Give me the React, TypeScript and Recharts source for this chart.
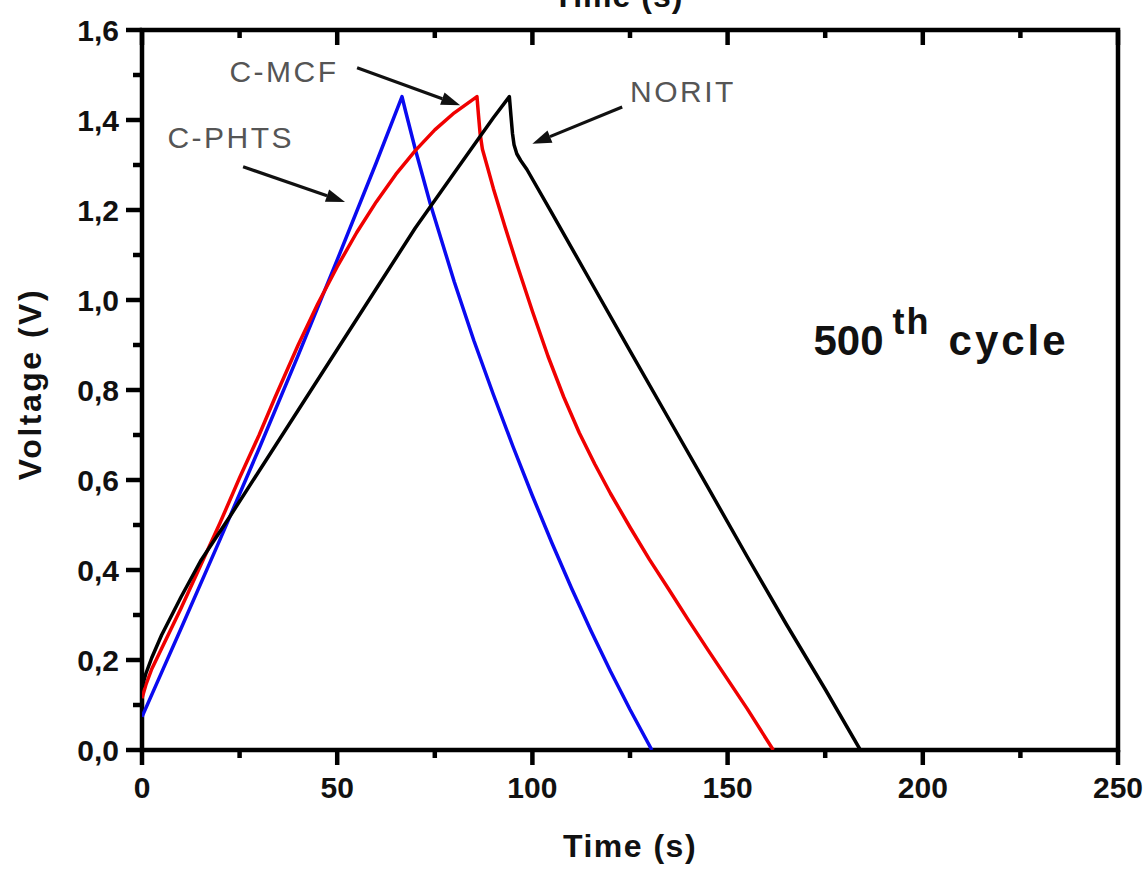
import React from 'react';
import { LineChart, Line, XAxis, YAxis, ReferenceLine, ReferenceDot, ReferenceArea } from 'recharts';

// Galvanostatic charge/discharge, 500th cycle — time (s) vs voltage (V)
const phtsTime = [0, 5, 10, 20, 30, 40, 50, 60, 66.6, 67.5, 70, 73.8, 80, 85, 90, 95, 100, 105, 110, 115, 120, 125, 130.6];
const phtsVolt = [0.074, 0.172, 0.27, 0.468, 0.67, 0.877, 1.089, 1.305, 1.452, 1.42, 1.335, 1.215, 1.04, 0.91, 0.79, 0.675, 0.565, 0.46, 0.36, 0.265, 0.175, 0.09, 0.0];

const mcfTime = [0, 1, 2.5, 5, 10, 15, 20, 25, 30, 34.1, 40, 45, 50, 55, 60, 65, 70, 75, 80, 85.8, 86.2, 86.6, 87.2, 88.5, 90, 93, 96, 100, 104, 108, 112, 116, 120, 125, 130, 135, 140, 145, 150, 155, 161.7];
const mcfVolt = [0.115, 0.145, 0.18, 0.225, 0.315, 0.41, 0.505, 0.605, 0.7, 0.784, 0.9, 0.991, 1.074, 1.15, 1.218, 1.279, 1.332, 1.378, 1.416, 1.452, 1.41, 1.37, 1.335, 1.295, 1.248, 1.162, 1.08, 0.975, 0.875, 0.785, 0.705, 0.635, 0.57, 0.495, 0.423, 0.356, 0.288, 0.222, 0.157, 0.092, 0.0];

const noritTime = [0, 1, 2.5, 5, 10, 15, 22.6, 30, 40, 50, 60, 70, 80, 90, 94.1, 94.5, 94.9, 95.3, 96, 97, 98.6, 105, 115, 125, 135, 145, 155, 165, 175, 184];
const noritVolt = [0.14, 0.17, 0.205, 0.255, 0.34, 0.42, 0.52, 0.62, 0.755, 0.89, 1.025, 1.16, 1.283, 1.405, 1.452, 1.41, 1.37, 1.345, 1.325, 1.31, 1.29, 1.193, 1.04, 0.887, 0.735, 0.583, 0.43, 0.28, 0.135, 0.0];

const xTickValues = [0, 25, 50, 75, 100, 125, 150, 175, 200, 225, 250];
const xMajorTicks = [0, 50, 100, 150, 200, 250];
const yTickValues = [0, 0.1, 0.2, 0.3, 0.4, 0.5, 0.6, 0.7, 0.8, 0.9, 1.0, 1.1, 1.2, 1.3, 1.4, 1.5, 1.6];
const xDomain = [0, 250];
const yDomain = [0, 1.6];

// Series labels and their pointer arrows, in data units (time, voltage)
const seriesLabels = [
  { text: 'C-PHTS', t: 6.5, v: 1.338 },
  { text: 'C-MCF', t: 22.4, v: 1.484 },
  { text: 'NORIT', t: 125, v: 1.44 },
];
const pointerFrom = [
  [25.9, 1.296],
  [55.1, 1.516],
  [123, 1.429],
];
const pointerTo = [
  [52.0, 1.218],
  [81.5, 1.433],
  [100, 1.347],
];
const cycleNote = { t: 172, v: 0.878 };
const topTitle = { text: 'Time (s)', t: 122, v: 1.651 };

const zip = (ts: number[], vs: number[]) => ts.map((t, i) => ({ t, v: vs[i] }));
const phtsData = zip(phtsTime, phtsVolt);
const mcfData = zip(mcfTime, mcfVolt);
const noritData = zip(noritTime, noritVolt);

const FONT = '"Liberation Sans", Arial, Helvetica, sans-serif';
const AXIS_W = 4.5;
const isMajorY = (v: number) => Math.round(v * 10) % 2 === 0;

// Axis tick labels (tick marks are drawn separately on the frame)
const BottomLabel = (props: any) => {
  const { x, y, payload } = props;
  if (!xMajorTicks.includes(payload.value)) return <g />;
  return (
    <text x={x} y={y + 48} textAnchor="middle" fontFamily={FONT} fontWeight="bold" fontSize={30} fill="#111">
      {payload.value}
    </text>
  );
};

const LeftLabel = (props: any) => {
  const { x, y, payload } = props;
  if (!isMajorY(payload.value)) return <g />;
  return (
    <text x={x - 23} y={y + 11} textAnchor="end" fontFamily={FONT} fontWeight="bold" fontSize={30} fill="#111">
      {payload.value.toFixed(1).replace('.', ',')}
    </text>
  );
};

// Tick marks: outward on bottom/left, inward along the top edge
const xTickMark = (major: boolean) => (p: any) => {
  const len = major ? 15 : 8;
  const top = Math.min(p.y1, p.y2);
  const bot = Math.max(p.y1, p.y2);
  return (
    <g>
      <line x1={p.x1} y1={bot} x2={p.x1} y2={bot + len} stroke="#000" strokeWidth={AXIS_W} />
      <line x1={p.x1} y1={top} x2={p.x1} y2={top + len} stroke="#000" strokeWidth={AXIS_W} />
    </g>
  );
};

const yTickMark = (major: boolean) => (p: any) => {
  const len = major ? 16 : 9;
  const left = Math.min(p.x1, p.x2);
  return <line x1={left} y1={p.y1} x2={left - len} y2={p.y1} stroke="#000" strokeWidth={AXIS_W} />;
};

const Arrow = (props: any) => {
  const { x1, y1, x2, y2 } = props;
  const ang = Math.atan2(y2 - y1, x2 - x1);
  const len = 19;
  const half = 6.5;
  const bx = x2 - len * Math.cos(ang);
  const by = y2 - len * Math.sin(ang);
  const px = -Math.sin(ang) * half;
  const py = Math.cos(ang) * half;
  return (
    <g>
      <line x1={x1} y1={y1} x2={bx} y2={by} stroke="#111" strokeWidth={3.2} />
      <polygon points={`${x2},${y2} ${bx + px},${by + py} ${bx - px},${by - py}`} fill="#111" />
    </g>
  );
};

export default function App() {
  return (
    <div style={{ position: 'absolute', left: 0, top: 0, background: '#fff' }}>
      <LineChart width={1148} height={871} margin={{ top: 30, right: 30, bottom: 0, left: 0 }}>
        <XAxis
          type="number"
          dataKey="t"
          domain={xDomain}
          ticks={xTickValues}
          interval={0}
          height={121}
          tickSize={0}
          tickMargin={0}
          tick={<BottomLabel />}
          tickLine={false}
          axisLine={false}
          allowDataOverflow
          label={{
            content: (p: any) => (
              <text
                x={p.viewBox.x + p.viewBox.width / 2}
                y={p.viewBox.y + 107}
                textAnchor="middle"
                fontFamily={FONT}
                fontWeight="bold"
                fontSize={32}
                letterSpacing={1.5}
                fill="#111"
              >
                Time (s)
              </text>
            ),
          }}
        />
        <YAxis
          type="number"
          domain={yDomain}
          ticks={yTickValues}
          interval={0}
          width={142}
          tickSize={0}
          tickMargin={0}
          tick={<LeftLabel />}
          tickLine={false}
          axisLine={false}
          allowDataOverflow
          label={{
            content: (p: any) => {
              const cx = p.viewBox.x + 41;
              const cy = p.viewBox.y + p.viewBox.height / 2 - 6;
              return (
                <text
                  x={cx}
                  y={cy}
                  textAnchor="middle"
                  transform={`rotate(-90, ${cx}, ${cy})`}
                  fontFamily={FONT}
                  fontWeight="bold"
                  fontSize={32}
                  letterSpacing={2.5}
                  fill="#111"
                >
                  Voltage (V)
                </text>
              );
            },
          }}
        />

        {/* plot frame */}
        <ReferenceArea
          x1={xDomain[0]}
          x2={xDomain[1]}
          y1={yDomain[0]}
          y2={yDomain[1]}
          fill="none"
          fillOpacity={0}
          stroke="#000"
          strokeWidth={AXIS_W}
          strokeOpacity={1}
          ifOverflow="visible"
        />

        {xTickValues.map((v) => (
          <ReferenceLine key={`xt-${v}`} x={v} ifOverflow="visible" shape={xTickMark(xMajorTicks.includes(v))} />
        ))}
        {yTickValues.map((v) => (
          <ReferenceLine key={`yt-${v}`} y={v} ifOverflow="visible" shape={yTickMark(isMajorY(v))} />
        ))}

        <Line data={phtsData} dataKey="v" type="linear" stroke="#0a0af0" strokeWidth={3.5} strokeLinejoin="round" dot={false} isAnimationActive={false} />
        <Line data={mcfData} dataKey="v" type="linear" stroke="#f00000" strokeWidth={3.5} strokeLinejoin="round" dot={false} isAnimationActive={false} />
        <Line data={noritData} dataKey="v" type="linear" stroke="#000" strokeWidth={3.5} strokeLinejoin="round" dot={false} isAnimationActive={false} />

        {pointerFrom.map((from, i) => (
          <ReferenceLine
            key={`arrow-${i}`}
            segment={[
              { x: from[0], y: from[1] },
              { x: pointerTo[i][0], y: pointerTo[i][1] },
            ]}
            shape={(p: any) => <Arrow {...p} />}
          />
        ))}

        {seriesLabels.map((s) => (
          <ReferenceDot
            key={s.text}
            x={s.t}
            y={s.v}
            r={0}
            shape={(p: any) => (
              <text x={p.cx} y={p.cy} fontFamily={FONT} fontSize={30} letterSpacing={2.5} fill="#555">
                {s.text}
              </text>
            )}
          />
        ))}

        <ReferenceDot
          x={cycleNote.t}
          y={cycleNote.v}
          r={0}
          shape={(p: any) => (
            <text x={p.cx} y={p.cy} fontFamily={FONT} fontWeight="bold" fill="#111">
              <tspan fontSize={42}>500</tspan>
              <tspan fontSize={36} dx={9} dy={-21} letterSpacing={2}>th</tspan>
              <tspan fontSize={42} dx={18} dy={21} letterSpacing={3}>cycle</tspan>
            </text>
          )}
        />

        <ReferenceDot
          x={topTitle.t}
          y={topTitle.v}
          r={0}
          ifOverflow="visible"
          shape={(p: any) => (
            <text x={p.cx} y={p.cy} textAnchor="middle" fontFamily={FONT} fontWeight="bold" fontSize={32} letterSpacing={1} fill="#111">
              {topTitle.text}
            </text>
          )}
        />
      </LineChart>
    </div>
  );
}
